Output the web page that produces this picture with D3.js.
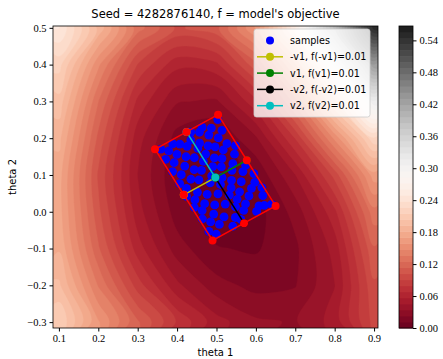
<!DOCTYPE html>
<html>
<head>
<meta charset="utf-8">
<script src="https://cdn.jsdelivr.net/npm/d3@7"></script>
<style>
  body { margin: 0; background: #fff; }
  .tick text { font-family: "Liberation Serif", "DejaVu Serif", serif; font-size: 10.5px; fill: #000; }
  .lbl { font-family: "DejaVu Sans", sans-serif; fill: #000; }
</style>
</head>
<body>
<div id="chart"></div>
<script>
// grid of the objective (rows = theta2, cols = theta1)
const theta1Grid = [0.1, 0.2, 0.3, 0.4, 0.5, 0.6, 0.7, 0.8, 0.9];
const theta2Grid = [-0.3, -0.2, -0.1, 0.0, 0.1, 0.2, 0.3, 0.4, 0.5];
const fGrid = [
  [0.215, 0.16, 0.115, 0.078, 0.05, 0.036, 0.033, 0.05, 0.095],
  [0.195, 0.135, 0.085, 0.048, 0.027, 0.019, 0.022, 0.045, 0.10],
  [0.18, 0.115, 0.062, 0.028, 0.012, 0.01, 0.02, 0.05, 0.112],
  [0.175, 0.105, 0.05, 0.017, 0.005, 0.006, 0.027, 0.065, 0.132],
  [0.175, 0.10, 0.045, 0.012, 0.003, 0.013, 0.045, 0.095, 0.165],
  [0.185, 0.11, 0.05, 0.018, 0.012, 0.032, 0.08, 0.15, 0.225],
  [0.20, 0.125, 0.065, 0.035, 0.032, 0.065, 0.13, 0.22, 0.315],
  [0.22, 0.15, 0.09, 0.06, 0.065, 0.11, 0.19, 0.30, 0.43],
  [0.25, 0.19, 0.13, 0.10, 0.11, 0.16, 0.26, 0.39, 0.55]
];
const fMax = 0.567;

const xTicks = [0.1, 0.2, 0.3, 0.4, 0.5, 0.6, 0.7, 0.8, 0.9];
const yTicks = [-0.3, -0.2, -0.1, 0.0, 0.1, 0.2, 0.3, 0.4, 0.5];
const cbTicks = [0.00, 0.06, 0.12, 0.18, 0.24, 0.30, 0.36, 0.42, 0.48, 0.54];

// center of the box and the two directions
const center = [0.497, 0.093];
const v1 = [0.080, 0.047];
const v2 = [-0.073, 0.124];

// samples in box coordinates (s along v1, t along v2)
const samples = [
  [-0.82,-0.93],[-0.31,-0.95],[-0.02,-0.91],[0.47,-0.92],[0.74,-0.89],[0.93,-0.94],
  [-0.95,-0.82],[-0.6,-0.8],[-0.12,-0.83],[0.18,-0.79],[0.61,-0.85],
  [-0.77,-0.68],[-0.38,-0.72],[0.04,-0.66],[0.32,-0.7],[0.85,-0.72],
  [-0.92,-0.56],[-0.58,-0.58],[-0.16,-0.52],[0.19,-0.55],[0.52,-0.6],[0.69,-0.5],[0.95,-0.58],
  [-0.8,-0.42],[-0.42,-0.44],[0.07,-0.41],[0.36,-0.45],[0.86,-0.43],
  [-0.94,-0.3],[-0.64,-0.33],[-0.18,-0.29],[0.22,-0.31],[0.55,-0.3],[0.97,-0.28],
  [-0.81,-0.18],[-0.44,-0.2],[0.02,-0.16],[0.34,-0.19],[0.74,-0.15],
  [-0.96,-0.05],[-0.64,-0.08],[-0.2,-0.04],[0.16,-0.06],[0.5,-0.03],[0.9,-0.07],
  [-0.84,0.08],[-0.42,0.11],[-0.06,0.06],[0.3,0.12],[0.62,0.07],
  [-0.93,0.22],[-0.6,0.19],[-0.22,0.24],[0.1,0.2],[0.44,0.25],[0.8,0.21],
  [-0.76,0.35],[-0.38,0.32],[-0.04,0.37],[0.27,0.33],[0.6,0.38],[0.95,0.34],
  [-0.92,0.48],[-0.55,0.46],[-0.2,0.51],[0.12,0.47],[0.45,0.5],[0.78,0.45],
  [-0.75,0.61],[-0.38,0.6],[0.02,0.63],[0.3,0.58],[0.66,0.62],
  [-0.9,0.74],[-0.56,0.72],[-0.2,0.76],[0.14,0.7],[0.48,0.75],[0.86,0.71],
  [-0.7,0.85],[-0.34,0.86],[-0.02,0.83],[0.3,0.88],[0.64,0.84],
  [-0.86,0.95],[-0.5,0.93],[0.1,0.96],[0.44,0.94],[0.92,0.92]
];

const width = 443, height = 359;
const plot = { left: 53, right: 378, top: 26, bottom: 328 };
const cb = { left: 399, right: 413 };

const svg = d3.select("#chart").append("svg")
  .attr("width", width)
  .attr("height", height)
  .style("font-family", "DejaVu Sans, sans-serif");

const xScale = d3.scaleLinear().domain([0.085, 0.91]).range([plot.left, plot.right]);
const yScale = d3.scaleLinear().domain([-0.316, 0.505]).range([plot.bottom, plot.top]);
const color = d3.scaleSequential(d3.interpolateRdGy).domain([0, fMax]);

svg.append("clipPath").attr("id", "plotClip")
  .append("rect")
  .attr("x", plot.left).attr("y", plot.top)
  .attr("width", plot.right - plot.left).attr("height", plot.bottom - plot.top);

// filled contours
const nLevels = 50;
const step = fMax / nLevels;
const levels = d3.range(nLevels).map(i => i * step);
const nx = theta1Grid.length, ny = theta2Grid.length;
const dx = theta1Grid[1] - theta1Grid[0], dy = theta2Grid[1] - theta2Grid[0];
const contours = d3.contours().size([nx, ny]).thresholds(levels)(fGrid.flat());

const gridX = x => xScale(theta1Grid[0] + (x - 0.5) * dx);
const gridY = y => yScale(theta2Grid[0] + (y - 0.5) * dy);
const ringLine = d3.line()
  .x(d => gridX(d[0]))
  .y(d => gridY(d[1]))
  .curve(d3.curveCatmullRomClosed.alpha(0.5));
const contourPath = c => c.coordinates
  .map(poly => poly.map(ring => ringLine(ring.slice(0, -1))).join(""))
  .join("");

const g = svg.append("g").attr("clip-path", "url(#plotClip)");
g.selectAll("path.band")
  .data(contours)
  .enter().append("path")
  .attr("class", "band")
  .attr("d", contourPath)
  .attr("fill-rule", "evenodd")
  .attr("fill", d => color(d.value + step / 2))
  .attr("stroke", d => color(d.value + step / 2))
  .attr("stroke-width", 0.4);

// helpers
const at = (s, t) => [center[0] + s * v1[0] + t * v2[0], center[1] + s * v1[1] + t * v2[1]];
const px = p => [xScale(p[0]), yScale(p[1])];

// samples
g.selectAll("circle.sample")
  .data(samples)
  .enter().append("circle")
  .attr("class", "sample")
  .attr("cx", d => px(at(d[0], d[1]))[0])
  .attr("cy", d => px(at(d[0], d[1]))[1])
  .attr("r", 4.4)
  .attr("fill", "#0000ff");

// direction lines
const vecs = [
  { name: "-v1, f(-v1)=0.01", end: [-1, 0], color: "#bfbf00" },
  { name: "v1, f(v1)=0.01", end: [1, 0], color: "#008000" },
  { name: "-v2, f(-v2)=0.01", end: [0, -1], color: "#000000" },
  { name: "v2, f(v2)=0.01", end: [0, 1], color: "#00bfbf" }
];
const line = d3.line().x(d => px(d)[0]).y(d => px(d)[1]);
vecs.forEach(v => {
  const pts = [at(0, 0), at(v.end[0], v.end[1])];
  g.append("path").attr("d", line(pts))
    .attr("stroke", v.color).attr("stroke-width", 1.5).attr("fill", "none");
  g.selectAll(null).data(pts).enter().append("circle")
    .attr("cx", d => px(d)[0]).attr("cy", d => px(d)[1])
    .attr("r", 4).attr("fill", v.color);
});

// box outline with corners and edge midpoints
const boxST = [[1,1],[0,1],[-1,1],[-1,0],[-1,-1],[0,-1],[1,-1],[1,0],[1,1]];
const boxPts = boxST.map(d => at(d[0], d[1]));
g.append("path").attr("d", line(boxPts))
  .attr("stroke", "#ff0000").attr("stroke-width", 1.5).attr("fill", "none");
g.selectAll("circle.box")
  .data(boxPts.slice(0, 8))
  .enter().append("circle")
  .attr("class", "box")
  .attr("cx", d => px(d)[0]).attr("cy", d => px(d)[1])
  .attr("r", 4).attr("fill", "#ff0000");

// axes
svg.append("g")
  .attr("transform", "translate(0," + plot.bottom + ")")
  .call(d3.axisBottom(xScale).tickValues(xTicks).tickFormat(d3.format(".1f")).tickSizeOuter(0).tickSize(3.5).tickPadding(3));
svg.append("g")
  .attr("transform", "translate(" + plot.left + ",0)")
  .call(d3.axisLeft(yScale).tickValues(yTicks).tickFormat(d3.format(".1f")).tickSizeOuter(0).tickSize(3.5).tickPadding(3));
svg.selectAll(".domain").remove();
svg.append("rect")
  .attr("x", plot.left).attr("y", plot.top)
  .attr("width", plot.right - plot.left).attr("height", plot.bottom - plot.top)
  .attr("fill", "none").attr("stroke", "#000").attr("stroke-width", 0.8);

// legend
const lg = svg.append("g");
lg.append("rect")
  .attr("x", 254).attr("y", 29).attr("width", 116).attr("height", 88)
  .attr("rx", 2.5)
  .attr("fill", "#fff").attr("fill-opacity", 0.8)
  .attr("stroke", "#cccccc").attr("stroke-width", 0.8);
const legendItems = [{ name: "samples", color: "#0000ff", dot: true }].concat(vecs);
legendItems.forEach((d, i) => {
  const y = 40.5 + i * 16.3;
  if (!d.dot) {
    lg.append("line").attr("x1", 257).attr("x2", 283).attr("y1", y).attr("y2", y)
      .attr("stroke", d.color).attr("stroke-width", 1.5);
  }
  lg.append("circle").attr("cx", 270).attr("cy", y).attr("r", 4).attr("fill", d.color);
  lg.append("text").attr("class", "lbl")
    .attr("x", 290).attr("y", y + 3.5)
    .style("font-size", "9.6px")
    .text(d.name);
});

// colorbar
const cbScale = d3.scaleLinear().domain([0, fMax]).range([plot.bottom, plot.top]);
svg.append("g").selectAll("rect")
  .data(levels)
  .enter().append("rect")
  .attr("x", cb.left).attr("width", cb.right - cb.left)
  .attr("y", d => cbScale(d + step))
  .attr("height", d => cbScale(d) - cbScale(d + step) + 0.5)
  .attr("fill", d => color(d + step / 2));
svg.append("rect")
  .attr("x", cb.left).attr("y", plot.top)
  .attr("width", cb.right - cb.left).attr("height", plot.bottom - plot.top)
  .attr("fill", "none").attr("stroke", "#000").attr("stroke-width", 0.8);
svg.append("g")
  .attr("transform", "translate(" + cb.right + ",0)")
  .call(d3.axisRight(cbScale).tickValues(cbTicks).tickFormat(d3.format(".2f")).tickSizeOuter(0).tickSize(3.5).tickPadding(3))
  .select(".domain").remove();

// titles
svg.append("text").attr("class", "lbl")
  .attr("x", (plot.left + plot.right) / 2).attr("y", 18)
  .attr("text-anchor", "middle").style("font-size", "11.5px")
  .text("Seed = 4282876140, f = model's objective");
svg.append("text").attr("class", "lbl")
  .attr("x", (plot.left + plot.right) / 2).attr("y", 356)
  .attr("text-anchor", "middle").style("font-size", "10px")
  .text("theta 1");
svg.append("text").attr("class", "lbl")
  .attr("transform", "translate(16," + (plot.top + plot.bottom) / 2 + ") rotate(-90)")
  .attr("text-anchor", "middle").style("font-size", "10px")
  .text("theta 2");
</script>
</body>
</html>
